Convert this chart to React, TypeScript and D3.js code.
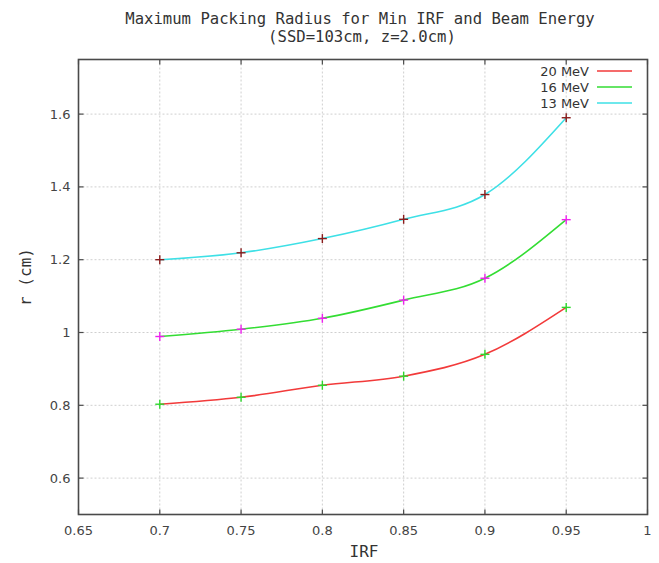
import React from "react";
import * as d3 from "d3";

const irf = [0.7, 0.75, 0.8, 0.85, 0.9, 0.95];
const r20 = [0.803, 0.822, 0.855, 0.88, 0.94, 1.069];
const r16 = [0.989, 1.009, 1.039, 1.089, 1.149, 1.31];
const r13 = [1.2, 1.219, 1.258, 1.311, 1.379, 1.59];
const seriesNames = ["20 MeV", "16 MeV", "13 MeV"];
const xTicks = [0.65, 0.7, 0.75, 0.8, 0.85, 0.9, 0.95, 1];
const yTicks = [0.6, 0.8, 1, 1.2, 1.4, 1.6];

const W = 659, H = 563;
const L = 78.5, R = 647.5, T = 59.5, B = 514.5;

export default function App() {
  const x = d3.scaleLinear().domain([0.65, 1.0]).range([L, R]);
  const y = d3.scaleLinear().domain([0.5, 1.75]).range([B, T]);
  const line = d3
    .line<[number, number]>()
    .x((d) => x(d[0]))
    .y((d) => y(d[1]))
    .curve(d3.curveMonotoneX);
  const series = [
    { name: seriesNames[0], vals: r20, color: "#f23a3a", marker: "#2ed82e" },
    { name: seriesNames[1], vals: r16, color: "#33dd33", marker: "#ee22ee" },
    { name: seriesNames[2], vals: r13, color: "#3ee0e6", marker: "#8a1c1c" },
  ];
  const tickFont = "'DejaVu Sans', Verdana, sans-serif";
  const mono = "'DejaVu Sans Mono', monospace";
  const axisColor = "#4a4a4a";
  return (
    <svg width={W} height={H} style={{ position: "absolute", left: 0, top: 0, background: "#fff" }}>
      <rect x={0} y={0} width={W} height={H} fill="#fff" />
      <text x={360} y={23.5} textAnchor="middle" fontFamily={mono} fontSize={15.6} fill="#333">
        Maximum Packing Radius for Min IRF and Beam Energy
      </text>
      <text x={362} y={42} textAnchor="middle" fontFamily={mono} fontSize={15.6} fill="#333">
        (SSD=103cm, z=2.0cm)
      </text>
      {/* grid */}
      {xTicks.slice(1, -1).map((t) => (
        <line key={"gx" + t} x1={x(t)} x2={x(t)} y1={T} y2={B} stroke="#cfcfcf" strokeWidth={1} strokeDasharray="2,2" />
      ))}
      {yTicks.map((t) => (
        <line key={"gy" + t} x1={L} x2={R} y1={y(t)} y2={y(t)} stroke="#cfcfcf" strokeWidth={1} strokeDasharray="2,2" />
      ))}
      {/* ticks */}
      {xTicks.map((t) => (
        <g key={"tx" + t}>
          <line x1={x(t)} x2={x(t)} y1={B} y2={B - 5} stroke={axisColor} strokeWidth={1.2} />
          <line x1={x(t)} x2={x(t)} y1={T} y2={T + 5} stroke={axisColor} strokeWidth={1.2} />
          <text x={x(t)} y={B + 20.5} textAnchor="middle" fontFamily={tickFont} fontSize={13} fill="#444">
            {String(t)}
          </text>
        </g>
      ))}
      {yTicks.map((t) => (
        <g key={"ty" + t}>
          <line x1={L} x2={L + 5} y1={y(t)} y2={y(t)} stroke={axisColor} strokeWidth={1.2} />
          <line x1={R} x2={R - 5} y1={y(t)} y2={y(t)} stroke={axisColor} strokeWidth={1.2} />
          <text x={L - 8} y={y(t) + 4.5} textAnchor="end" fontFamily={tickFont} fontSize={13} fill="#444">
            {String(t)}
          </text>
        </g>
      ))}
      {/* curves */}
      {series.map((s) => (
        <path
          key={s.name}
          d={line(irf.map((v, i) => [v, s.vals[i]] as [number, number])) || ""}
          fill="none"
          stroke={s.color}
          strokeWidth={1.6}
        />
      ))}
      {series.map((s) =>
        irf.map((v, i) => (
          <g key={s.name + i} stroke={s.marker} strokeWidth={1.4}>
            <line x1={x(v) - 4.5} x2={x(v) + 4.5} y1={y(s.vals[i])} y2={y(s.vals[i])} />
            <line x1={x(v)} x2={x(v)} y1={y(s.vals[i]) - 4.5} y2={y(s.vals[i]) + 4.5} />
          </g>
        ))
      )}
      {/* frame */}
      <rect x={L} y={T} width={R - L} height={B - T} fill="none" stroke={axisColor} strokeWidth={1.6} />
      {/* legend */}
      {series.map((s, i) => (
        <g key={"lg" + s.name}>
          <text x={589} y={75.5 + i * 16} textAnchor="end" fontFamily={tickFont} fontSize={13} fill="#333">
            {s.name}
          </text>
          <line x1={597} x2={632} y1={71 + i * 16} y2={71 + i * 16} stroke={s.color} strokeWidth={1.6} />
        </g>
      ))}
      {/* axis labels */}
      <text x={364} y={557} textAnchor="middle" fontFamily={mono} fontSize={16} fill="#333">
        IRF
      </text>
      <text
        transform={`translate(31, ${277}) rotate(-90)`}
        textAnchor="middle"
        fontFamily={mono}
        fontSize={16}
        fill="#333"
      >
        r (cm)
      </text>
    </svg>
  );
}
